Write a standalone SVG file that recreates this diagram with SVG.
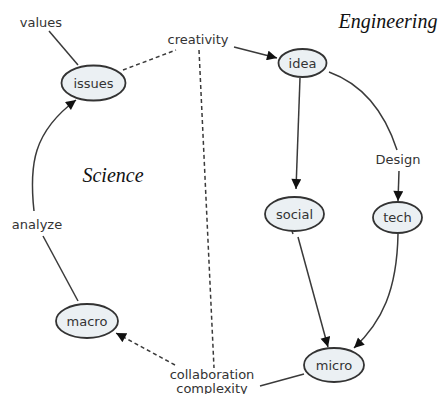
<svg xmlns="http://www.w3.org/2000/svg" width="441" height="394" viewBox="0 0 441 394">
<style>
.node ellipse{fill:#ebf0f3;stroke:#333;stroke-width:1.8}
.lbl{font-family:"DejaVu Sans",Verdana,sans-serif;font-size:13px;fill:#333;text-anchor:middle}
.title{font-family:"Liberation Serif","Times New Roman",serif;font-style:italic;font-size:20px;fill:#111;text-anchor:middle}
.c{fill:none;stroke:#3a3a3a;stroke-width:1.5}
.d{stroke-dasharray:4,3}
</style>
<defs>
<marker id="ah" viewBox="0 0 10 10" refX="10" refY="5" markerWidth="11" markerHeight="10" markerUnits="userSpaceOnUse" orient="auto">
<path d="M0,0 L10,5 L0,10 Z" fill="#111"/>
</marker>
</defs>
<rect width="441" height="394" fill="#fff"/>
<g id="connectors">
<line class="c" x1="49" y1="31" x2="78" y2="65"/>
<line class="c d" x1="123" y1="70" x2="176" y2="50"/>
<line class="c" x1="234" y1="47" x2="277" y2="58" marker-end="url(#ah)"/>
<line class="c d" x1="199" y1="50" x2="214" y2="368"/>
<line class="c" x1="300" y1="78" x2="296" y2="189" marker-end="url(#ah)"/>
<path class="c" d="M329,72 C362,84 384,110 397,150"/>
<line class="c" x1="399" y1="171" x2="398" y2="201" marker-end="url(#ah)"/>
<line class="c" x1="292" y1="231" x2="293" y2="234"/>
<line class="c" x1="298" y1="237" x2="328" y2="347" marker-end="url(#ah)"/>
<path class="c" d="M398,234 C397,290 382,322 354,348" marker-end="url(#ah)"/>
<line class="c" x1="304" y1="374" x2="260" y2="386"/>
<line class="c d" x1="175" y1="365" x2="116" y2="333" marker-end="url(#ah)"/>
<line class="c" x1="78" y1="301" x2="43" y2="236"/>
<path class="c" d="M34,211 C29,165 33,132 76,100" marker-end="url(#ah)"/>
</g>
<g id="values"><text class="lbl" x="41" y="26.5">values</text></g>
<g id="creativity"><text class="lbl" x="198" y="44">creativity</text></g>
<g id="engineering"><text class="title" x="388" y="28">Engineering</text></g>
<g id="science"><text class="title" x="113" y="182">Science</text></g>
<g id="analyze"><text class="lbl" x="37" y="228.5">analyze</text></g>
<g id="design"><text class="lbl" x="398" y="163.5">Design</text></g>
<g id="collaboration"><text class="lbl" x="212" y="378.5">collaboration</text><text class="lbl" x="212" y="393">complexity</text></g>
<g id="issues" class="node"><ellipse cx="93.5" cy="83" rx="32" ry="17.5"/><text class="lbl" x="93.5" y="87.5">issues</text></g>
<g id="idea" class="node"><ellipse cx="302.5" cy="63" rx="24" ry="14"/><text class="lbl" x="302.5" y="67.5">idea</text></g>
<g id="social" class="node"><ellipse cx="294.5" cy="214" rx="29.5" ry="17"/><text class="lbl" x="294.5" y="218.5">social</text></g>
<g id="tech" class="node"><ellipse cx="397.5" cy="217.5" rx="24.5" ry="15.5"/><text class="lbl" x="397.5" y="222">tech</text></g>
<g id="macro" class="node"><ellipse cx="87" cy="321" rx="31" ry="17"/><text class="lbl" x="87" y="325.5">macro</text></g>
<g id="micro" class="node"><ellipse cx="334" cy="365" rx="30" ry="17"/><text class="lbl" x="334" y="369.5">micro</text></g>
</svg>
